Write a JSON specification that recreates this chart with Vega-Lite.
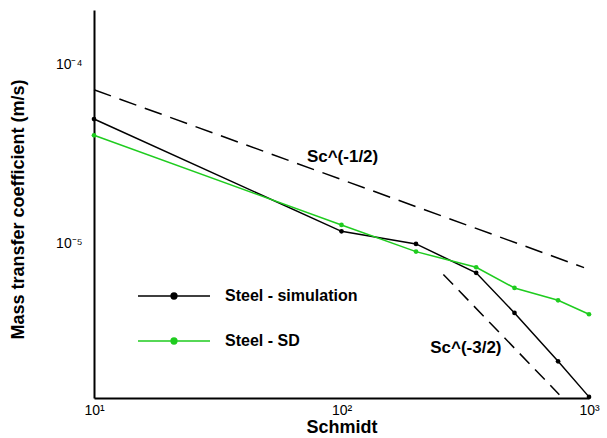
{
  "$schema": "https://vega.github.io/schema/vega-lite/v6.json",
  "autosize": "none",
  "width": 495,
  "height": 388,
  "padding": {"left": 94, "top": 10, "right": 18, "bottom": 40},
  "background": "white",
  "config": {
    "view": {"stroke": null},
    "font": "Liberation Sans",
    "axis": {"grid": false, "ticks": false, "domainColor": "black", "domainWidth": 2, "labelColor": "black", "titleColor": "black", "labelFont": "Liberation Sans", "titleFont": "Liberation Sans", "labelFontSize": 14, "titleFontSize": 18, "titleFontWeight": "bold"}
  },
  "datasets": {
    "curves": [
      {"Sc": 10, "k": 4.94e-5, "series": "Steel - simulation"},
      {"Sc": 100, "k": 1.17e-5, "series": "Steel - simulation"},
      {"Sc": 200, "k": 9.96e-6, "series": "Steel - simulation"},
      {"Sc": 350, "k": 6.87e-6, "series": "Steel - simulation"},
      {"Sc": 500, "k": 4.11e-6, "series": "Steel - simulation"},
      {"Sc": 750, "k": 2.21e-6, "series": "Steel - simulation"},
      {"Sc": 1000, "k": 1.4e-6, "series": "Steel - simulation"},
      {"Sc": 10, "k": 4.01e-5, "series": "Steel - SD"},
      {"Sc": 100, "k": 1.27e-5, "series": "Steel - SD"},
      {"Sc": 200, "k": 9.02e-6, "series": "Steel - SD"},
      {"Sc": 350, "k": 7.38e-6, "series": "Steel - SD"},
      {"Sc": 500, "k": 5.66e-6, "series": "Steel - SD"},
      {"Sc": 750, "k": 4.83e-6, "series": "Steel - SD"},
      {"Sc": 1000, "k": 4.04e-6, "series": "Steel - SD"}
    ],
    "half": [
      {"Sc": 10, "k": 7.19e-5},
      {"Sc": 955, "k": 7.35e-6}
    ],
    "threehalf": [
      {"Sc": 258, "k": 6.73e-6},
      {"Sc": 759, "k": 1.44e-6}
    ],
    "labels": [
      {"Sc": 101, "k": 3.05e-5, "text": "Sc^(-1/2)"},
      {"Sc": 318, "k": 2.62e-6, "text": "Sc^(-3/2)"}
    ],
    "xmajor": [{"Sc": 10}, {"Sc": 100}, {"Sc": 1000}],
    "xminor": [{"Sc": 20}, {"Sc": 30}, {"Sc": 40}, {"Sc": 50}, {"Sc": 60}, {"Sc": 70}, {"Sc": 80}, {"Sc": 90}, {"Sc": 200}, {"Sc": 300}, {"Sc": 400}, {"Sc": 500}, {"Sc": 600}, {"Sc": 700}, {"Sc": 800}, {"Sc": 900}],
    "ymajor": [{"k": 1e-5}, {"k": 1e-4}],
    "yminor": [{"k": 2e-6}, {"k": 3e-6}, {"k": 4e-6}, {"k": 5e-6}, {"k": 6e-6}, {"k": 7e-6}, {"k": 8e-6}, {"k": 9e-6}, {"k": 2e-5}, {"k": 3e-5}, {"k": 4e-5}, {"k": 5e-5}, {"k": 6e-5}, {"k": 7e-5}, {"k": 8e-5}, {"k": 9e-5}, {"k": 2e-4}]
  },
  "encoding": {
    "x": {
      "field": "Sc", "type": "quantitative",
      "scale": {"type": "log", "domain": [10, 1000], "nice": false},
      "axis": {
        "title": "Schmidt",
        "values": [10, 100, 1000],
        "labelExpr": "datum.value == 10 ? '10¹' : datum.value == 100 ? '10²' : '10³'",
        "labelPadding": 5,
        "labelFlush": false,
        "labelOverlap": false,
        "titleY": 29,
        "titleBaseline": "middle"
      }
    },
    "y": {
      "field": "k", "type": "quantitative",
      "scale": {"type": "log", "domain": [1.38e-6, 2.0e-4], "nice": false},
      "axis": {
        "title": "Mass transfer coefficient (m/s)",
        "values": [1e-5, 1e-4],
        "labelExpr": "datum.value == 1e-4 ? '10⁻⁴' : '10⁻⁵'",
        "labelPadding": 12,
        "labelFlush": false,
        "labelOverlap": false,
        "titleX": -76,
        "titleY": 199,
        "titleBaseline": "middle"
      }
    }
  },
  "layer": [
    {
      "data": {"name": "xmajor"},
      "mark": {"type": "tick", "orient": "vertical", "color": "black", "size": 9, "thickness": 2, "yOffset": -4.5, "opacity": 1, "clip": false},
      "encoding": {"y": {"datum": 1.38e-6, "type": "quantitative"}}
    },
    {
      "data": {"name": "xminor"},
      "mark": {"type": "tick", "orient": "vertical", "color": "black", "size": 5, "thickness": 1, "yOffset": -2.5, "opacity": 1, "clip": false},
      "encoding": {"y": {"datum": 1.38e-6, "type": "quantitative"}}
    },
    {
      "data": {"name": "ymajor"},
      "mark": {"type": "tick", "orient": "horizontal", "color": "black", "size": 9, "thickness": 2, "xOffset": 4.5, "opacity": 1, "clip": false},
      "encoding": {"x": {"datum": 10, "type": "quantitative"}}
    },
    {
      "data": {"name": "yminor"},
      "mark": {"type": "tick", "orient": "horizontal", "color": "black", "size": 5, "thickness": 1, "xOffset": 2.5, "opacity": 1, "clip": false},
      "encoding": {"x": {"datum": 10, "type": "quantitative"}}
    },
    {
      "data": {"name": "half"},
      "mark": {"type": "line", "color": "black", "strokeWidth": 1.5, "strokeDash": [18, 9]},
      "encoding": {}
    },
    {
      "data": {"name": "threehalf"},
      "mark": {"type": "line", "color": "black", "strokeWidth": 1.5, "strokeDash": [14, 8]},
      "encoding": {}
    },
    {
      "data": {"name": "curves"},
      "mark": {"type": "line", "strokeWidth": 1.5, "clip": false},
      "encoding": {
        "color": {
          "field": "series", "type": "nominal",
          "scale": {"domain": ["Steel - simulation", "Steel - SD"], "range": ["black", "#1fcc1f"]},
          "legend": {
            "title": null,
            "orient": "none",
            "legendX": 43,
            "legendY": 249,
            "symbolType": "M-1,0L1,0M-0.08,0a0.08,0.08 0 1,0 0.16,0a0.08,0.08 0 1,0 -0.16,0",
            "symbolSize": 5184,
            "symbolStrokeWidth": 1.5,
            "labelFont": "Liberation Sans",
            "labelFontSize": 16,
            "labelFontWeight": "bold",
            "labelColor": "black",
            "labelOffset": 14,
            "rowPadding": -8,
            "encode": {"symbols": {"update": {"fill": {"scale": "color", "field": "value"}}}}
          }
        }
      }
    },
    {
      "data": {"name": "curves"},
      "mark": {"type": "circle", "size": 22, "opacity": 1, "clip": false},
      "encoding": {
        "color": {"field": "series", "type": "nominal"}
      }
    },
    {
      "data": {"name": "labels"},
      "mark": {"type": "text", "font": "Liberation Sans", "fontSize": 17, "fontWeight": "bold", "color": "black", "align": "center", "baseline": "middle"},
      "encoding": {"text": {"field": "text"}}
    }
  ]
}
